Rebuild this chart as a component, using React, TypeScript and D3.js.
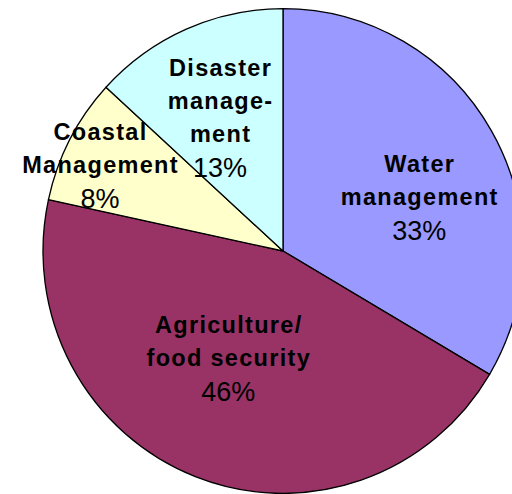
import * as d3 from "d3";
import { useEffect, useRef } from "react";

// slice order, clockwise from 12 o'clock
const categories = ["Water management", "Agriculture/ food security", "Coastal Management", "Disaster management"];
const nameLines = [
  ["Water", "management"],
  ["Agriculture/", "food security"],
  ["Coastal", "Management"],
  ["Disaster", "manage-", "ment"],
];
const values = [33.5, 44.9, 8.4, 13.2];
const pctLabels = ["33%", "46%", "8%", "13%"];
const colors = ["#9999FF", "#993366", "#FFFFCC", "#CCFFFF"];

type Slice = d3.PieArcDatum<number>;

const App = () => {
  const svgRef = useRef<SVGSVGElement | null>(null);

  useEffect(() => {
    const width = 512;
    const height = 494;
    const cx = 283;
    const cy = 251;
    const radius = 240;
    const squash = 1.01; // original is a touch taller than wide

    d3.select(svgRef.current).selectAll("*").remove();
    const svg = d3.select(svgRef.current).attr("width", width).attr("height", height);

    const pie = d3.pie<number>().sort(null).value((d) => d);
    const arcs = pie(values);
    const arc = d3.arc<Slice>().innerRadius(0).outerRadius(radius);

    const g = svg.append("g").attr("transform", `translate(${cx},${cy}) scale(1,${squash})`);
    g.selectAll("path")
      .data(arcs)
      .enter()
      .append("path")
      .attr("d", (d) => arc(d)!)
      .style("fill", (d, i) => colors[i])
      .style("stroke", "#000")
      .style("stroke-width", "1.3px")
      .style("stroke-linejoin", "round");

    // label radius (fraction of r) and small nudges, tuned by eye
    const labelR = [0.61, 0.5, 0.84, 0.61];
    const nudge = [
      [9, 20],
      [-11, -5],
      [-4, 8],
      [-4, 2],
    ];

    const labels = svg.append("g").style("font-family", "'Liberation Sans', Arial, sans-serif");
    arcs.forEach((d, i) => {
      const mid = (d.startAngle + d.endAngle) / 2;
      const r = radius * labelR[i];
      const x = cx + r * Math.sin(mid) + nudge[i][0];
      const y = cy - r * Math.cos(mid) * squash + nudge[i][1];

      const lines = nameLines[i];
      const n = lines.length + 1;
      const blockH = (n - 1) * 33 + 2 + 17;
      const top = y - blockH / 2 + 17;

      const t = labels.append("g").attr("data-name", categories[i]);
      lines.forEach((line, j) => {
        t.append("text")
          .attr("x", x + 0.6)
          .attr("y", top + j * 33)
          .attr("text-anchor", "middle")
          .style("font-size", "23.5px")
          .style("font-weight", "bold")
          .style("letter-spacing", "1.3px")
          .style("fill", "#000")
          .text(line);
      });
      t.append("text")
        .attr("x", x)
        .attr("y", top + lines.length * 33 + 2)
        .attr("text-anchor", "middle")
        .style("font-size", "27px")
        .style("fill", "#000")
        .text(pctLabels[i]);
    });
  }, []);

  return (
    <svg
      ref={svgRef}
      style={{ position: "absolute", left: 0, top: 0, display: "block", background: "#fff" }}
    />
  );
};

export default App;
